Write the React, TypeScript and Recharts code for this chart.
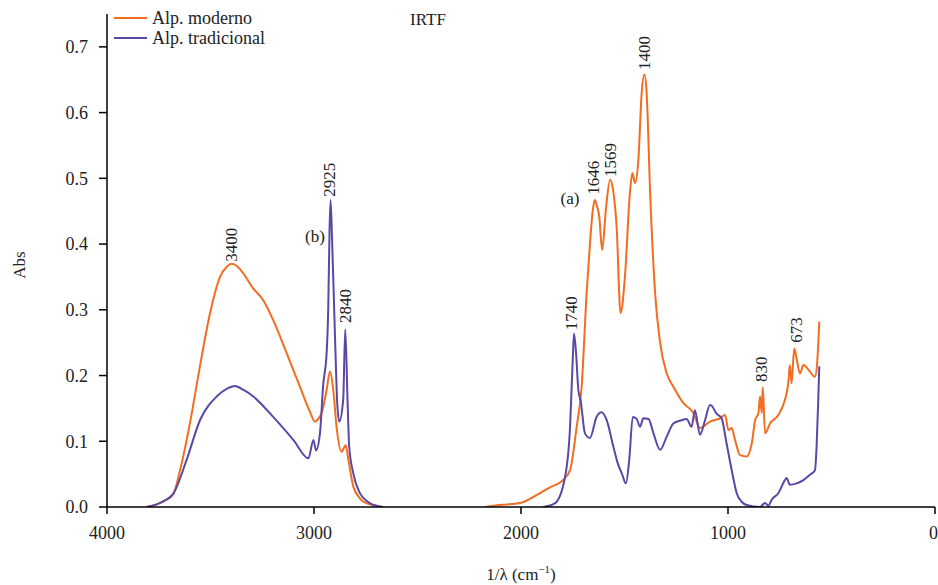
import { LineChart, Line, XAxis, YAxis, Legend, ReferenceDot } from "recharts";

// Alp. moderno (orange) – wavenumber (cm-1) / absorbance, null = cut region
const modernoWn = [
  3808, 3760, 3720, 3680, 3647, 3599, 3551, 3502, 3454, 3420, 3398, 3370, 3343, 3295, 3246, 3198, 3132, 3068,
  3020, 2995, 2975, 2963, 2939, 2923, 2907, 2891, 2867, 2847, 2834, 2810, 2780, 2762, 2697, 2400,
  2174, 2101, 2005, 1942, 1860, 1797, 1763, 1731, 1707, 1683, 1667, 1651, 1643, 1635, 1622, 1608, 1590, 1570,
  1555, 1538, 1519, 1498, 1474, 1462, 1449, 1433, 1417, 1404, 1393, 1376, 1352, 1328, 1296, 1264, 1215, 1167,
  1135, 1087, 1039, 1014, 998, 982, 966, 942, 910, 885, 869, 853, 845, 837, 832, 821, 797, 757, 725, 709, 701,
  693, 680, 670, 652, 636, 604, 580, 570, 559,
];
const modernoAbs = [
  0, 0.004, 0.01, 0.02, 0.056, 0.128, 0.214, 0.295, 0.35, 0.366, 0.37, 0.366, 0.356, 0.333, 0.315, 0.285, 0.234, 0.183,
  0.145, 0.13, 0.136, 0.143, 0.178, 0.206, 0.178, 0.122, 0.084, 0.094, 0.072, 0.031, 0.014, 0.008, 0.002, null,
  0, 0.003, 0.006, 0.015, 0.03, 0.041, 0.056, 0.122, 0.183, 0.325, 0.4, 0.457, 0.467, 0.46, 0.442, 0.391, 0.452, 0.498,
  0.482, 0.426, 0.295, 0.35, 0.477, 0.508, 0.493, 0.528, 0.63, 0.658, 0.63, 0.477, 0.325, 0.25, 0.203, 0.183, 0.158, 0.143,
  0.12, 0.13, 0.135, 0.14, 0.117, 0.12, 0.102, 0.079, 0.077, 0.097, 0.132, 0.143, 0.168, 0.143, 0.182, 0.112, 0.127, 0.14, 0.163, 0.188, 0.216,
  0.188, 0.241, 0.228, 0.203, 0.216, 0.206, 0.198, 0.216, 0.282,
];

// Alp. tradicional (purple)
const tradWn = [
  3808, 3760, 3720, 3680, 3615, 3551, 3470, 3420, 3382, 3340, 3293, 3197, 3100, 3027, 3003, 2990, 2971, 2955,
  2939, 2931, 2925, 2920, 2912, 2899, 2888, 2878, 2859, 2849, 2838, 2830, 2810, 2778, 2740, 2713, 2665, 2400,
  1893, 1835, 1787, 1763, 1750, 1744, 1734, 1723, 1711, 1691, 1667, 1635, 1611, 1586, 1554, 1530, 1514, 1493,
  1477, 1460, 1441, 1425, 1409, 1384, 1360, 1328, 1296, 1264, 1224, 1200, 1176, 1160, 1135, 1111, 1087, 1079,
  1055, 1031, 1007, 982, 958, 934, 910, 846, 821, 805, 789, 757, 725, 717, 701, 668, 636, 604, 580, 572, 564, 559,
];
const tradAbs = [
  0, 0.004, 0.01, 0.02, 0.072, 0.132, 0.168, 0.18, 0.184, 0.178, 0.168, 0.137, 0.102, 0.074, 0.102, 0.086, 0.113, 0.188,
  0.234, 0.305, 0.42, 0.467, 0.4, 0.264, 0.16, 0.13, 0.163, 0.27, 0.163, 0.092, 0.051, 0.021, 0.008, 0.003, 0, null,
  0, 0.006, 0.046, 0.122, 0.224, 0.264, 0.234, 0.178, 0.16, 0.112, 0.105, 0.137, 0.144, 0.132, 0.092, 0.064, 0.052, 0.036,
  0.072, 0.137, 0.134, 0.122, 0.135, 0.134, 0.112, 0.087, 0.107, 0.127, 0.132, 0.134, 0.122, 0.147, 0.11, 0.132, 0.155, 0.154,
  0.142, 0.135, 0.097, 0.056, 0.021, 0.008, 0.003, 0, 0.006, 0.002, 0.011, 0.021, 0.041, 0.044, 0.034, 0.036, 0.041, 0.049, 0.056, 0.092, 0.163, 0.214,
];

const xTicks = [4000, 3000, 2000, 1000, 0];
const yTicks = [0, 0.1, 0.2, 0.3, 0.4, 0.5, 0.6, 0.7];

// peak labels: text, wavenumber, absorbance at the text's lower end
const peakLabels: [string, number, number][] = [
  ["3400", 3398, 0.373],
  ["2925", 2923, 0.472],
  ["2840", 2850, 0.28],
  ["1740", 1754, 0.269],
  ["1646", 1652, 0.475],
  ["1569", 1570, 0.502],
  ["1400", 1401, 0.665],
  ["830", 836, 0.19],
  ["673", 667, 0.25],
];
const letterLabels: [string, number, number][] = [
  ["(a)", 1763, 0.47],
  ["(b)", 2995, 0.411],
];

const ORANGE = "#f26d22";
const PURPLE = "#5a47a6";
const FONT = "'Liberation Serif', 'Times New Roman', serif";

const modernoData = modernoWn.map((x, i) => ({ x, y: modernoAbs[i] }));
const tradData = tradWn.map((x, i) => ({ x, y: tradAbs[i] }));

function LegendBox() {
  const items = [
    { name: "Alp. moderno", color: ORANGE },
    { name: "Alp. tradicional", color: PURPLE },
  ];
  return (
    <div style={{ fontFamily: FONT, fontSize: 18, color: "#222", lineHeight: "20px" }}>
      {items.map((it) => (
        <div key={it.name} style={{ display: "flex", alignItems: "center", height: 20 }}>
          <span style={{ width: 33, height: 2, background: it.color, marginRight: 5 }} />
          {it.name}
        </div>
      ))}
    </div>
  );
}

export default function App() {
  return (
    <div style={{ position: "absolute", left: 0, top: 0, width: 938, height: 585, background: "#fff" }}>
      <div
        style={{
          position: "absolute",
          left: 428,
          top: 10,
          transform: "translateX(-50%)",
          fontFamily: FONT,
          fontSize: 17,
          color: "#222",
        }}
      >
        IRTF
      </div>
      <LineChart width={938} height={585} margin={{ top: 14, right: 3, bottom: 8, left: 47 }}>
        <XAxis
          type="number"
          dataKey="x"
          domain={[0, 4000]}
          ticks={xTicks}
          reversed
          allowDataOverflow
          axisLine={{ stroke: "#000", strokeWidth: 1.5 }}
          tickLine={{ stroke: "#000", strokeWidth: 1.5 }}
          tickSize={7}
          tickMargin={12}
          tick={{ fontFamily: FONT, fontSize: 18, fill: "#222" }}
          height={70}
          label={{
            content: ({ viewBox }: any) => (
              <text
                x={viewBox.x + viewBox.width / 2}
                y={580}
                textAnchor="middle"
                fontFamily={FONT}
                fontSize={17}
                fill="#222"
              >
                1/λ (cm
                <tspan dy={-7} fontSize={11}>−1</tspan>
                <tspan dy={7}>)</tspan>
              </text>
            ),
          }}
        />
        <YAxis
          type="number"
          domain={[0, 0.75]}
          ticks={yTicks}
          allowDataOverflow
          width={60}
          tickFormatter={(v: number) => v.toFixed(1)}
          axisLine={{ stroke: "#000", strokeWidth: 1.5 }}
          tickLine={{ stroke: "#000", strokeWidth: 1.5 }}
          tickSize={8}
          tickMargin={11}
          tick={{ fontFamily: FONT, fontSize: 18, fill: "#222" }}
          label={{
            content: () => (
              <text
                x={19}
                y={265}
                transform="rotate(-90 19 265)"
                textAnchor="middle"
                dominantBaseline="central"
                fontFamily={FONT}
                fontSize={17}
                fill="#222"
              >
                Abs
              </text>
            ),
          }}
        />
        <Legend
          layout="vertical"
          align="center"
          verticalAlign="middle"
          wrapperStyle={{ top: 8, left: 114, width: 220 }}
          content={() => <LegendBox />}
        />
        <Line
          data={modernoData}
          dataKey="y"
          name="Alp. moderno"
          type="monotone"
          stroke={ORANGE}
          strokeWidth={2}
          dot={false}
          connectNulls={false}
          isAnimationActive={false}
        />
        <Line
          data={tradData}
          dataKey="y"
          name="Alp. tradicional"
          type="monotone"
          stroke={PURPLE}
          strokeWidth={2}
          dot={false}
          connectNulls={false}
          isAnimationActive={false}
        />
        {peakLabels.map(([txt, x, y]) => (
          <ReferenceDot
            key={txt}
            x={x}
            y={y}
            r={0}
            shape={(p: any) => (
              <text
                x={p.cx}
                y={p.cy}
                transform={`rotate(-90 ${p.cx} ${p.cy})`}
                textAnchor="start"
                dominantBaseline="central"
                fontFamily={FONT}
                fontSize={17}
                fill="#222"
              >
                {txt}
              </text>
            )}
          />
        ))}
        {letterLabels.map(([txt, x, y]) => (
          <ReferenceDot
            key={txt}
            x={x}
            y={y}
            r={0}
            shape={(p: any) => (
              <text
                x={p.cx}
                y={p.cy}
                textAnchor="middle"
                dominantBaseline="central"
                fontFamily={FONT}
                fontSize={17}
                fill="#222"
              >
                {txt}
              </text>
            )}
          />
        ))}
      </LineChart>
    </div>
  );
}
